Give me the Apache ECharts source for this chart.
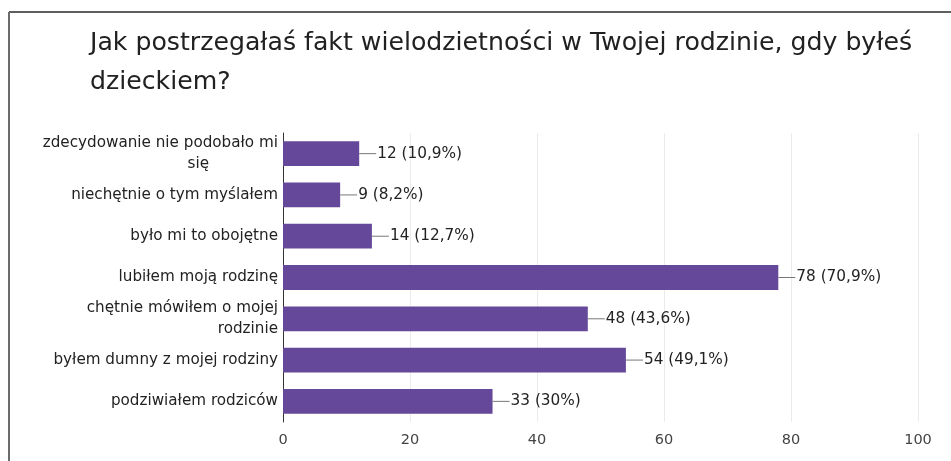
<!DOCTYPE html>
<html>
<head>
<meta charset="utf-8">
<script src="https://cdn.jsdelivr.net/npm/echarts@6/dist/echarts.min.js"></script>
<style>
  html, body { margin: 0; padding: 0; background: #fff; }
  #chart { width: 951px; height: 461px; }
</style>
</head>
<body>
<div id="chart"></div>
<script>
// odpowiedzi (od góry do dołu)
var categories = [
  "zdecydowanie nie podobało mi\nsię",
  "niechętnie o tym myślałem",
  "było mi to obojętne",
  "lubiłem moją rodzinę",
  "chętnie mówiłem o mojej\nrodzinie",
  "byłem dumny z mojej rodziny",
  "podziwiałem rodziców"
];
var counts = [12, 9, 14, 78, 48, 54, 33];
var percents = ["10,9%", "8,2%", "12,7%", "70,9%", "43,6%", "49,1%", "30%"];
var xTicks = [0, 20, 40, 60, 80, 100];

var chart = echarts.init(document.getElementById("chart"));

var option = {
  animation: false,
  title: {
    text: "Jak postrzegałaś fakt wielodzietności w Twojej rodzinie, gdy byłeś\ndzieckiem?",
    left: 85,
    top: 19,
    textStyle: {
      fontFamily: "DejaVu Sans",
      fontSize: 25.2,
      fontWeight: "normal",
      color: "#212121",
      lineHeight: 39
    }
  },
  graphic: [
    { type: "line", shape: { x1: 9, y1: 12, x2: 951, y2: 12 }, style: { stroke: "#5f5f5f", lineWidth: 2 } },
    { type: "line", shape: { x1: 9, y1: 12, x2: 9, y2: 461 }, style: { stroke: "#6b6b6b", lineWidth: 2 } }
  ],
  grid: {
    left: 283,
    right: 33,
    top: 133,
    bottom: 39
  },
  xAxis: {
    type: "value",
    min: 0,
    max: 100,
    interval: 20,
    axisLine: { show: false },
    axisTick: { show: false },
    splitLine: { show: true, lineStyle: { color: "#ebebeb", width: 1 } },
    axisLabel: {
      margin: 11,
      fontFamily: "DejaVu Sans",
      fontSize: 14.5,
      color: "#444",
      formatter: function (v) { return xTicks.indexOf(v) >= 0 ? String(v) : ""; }
    }
  },
  yAxis: {
    type: "category",
    inverse: true,
    data: categories,
    axisLine: { show: true, lineStyle: { color: "#333", width: 1 } },
    axisTick: { show: false },
    axisLabel: {
      margin: 5,
      fontFamily: "DejaVu Sans",
      fontSize: 15.2,
      color: "#222",
      lineHeight: 21,
      align: "right",
      formatter: function (v) {
        var parts = v.split("\n");
        if (parts.length > 1 && parts[1].length < 5) {
          // krótka druga linia stoi bliżej środka
          return parts[0] + "\n{s|" + parts[1] + "}";
        }
        return v;
      },
      rich: {
        s: { fontFamily: "DejaVu Sans", fontSize: 15.2, color: "#222", lineHeight: 21, padding: [0, 69, 0, 0] }
      }
    }
  },
  series: [
    {
      type: "bar",
      data: counts,
      barCategoryGap: "40%",
      itemStyle: { color: "#654899" },
      label: {
        show: true,
        position: "right",
        distance: 0,
        formatter: function (p) {
          return "{l|}{t|" + p.value + " (" + percents[p.dataIndex] + ")}";
        },
        rich: {
          l: { width: 17, height: 1, backgroundColor: "#777", verticalAlign: "middle" },
          t: { fontFamily: "DejaVu Sans", fontSize: 15.3, color: "#222", padding: [0, 0, 0, 1] }
        }
      }
    }
  ]
};

chart.setOption(option);
</script>
</body>
</html>
